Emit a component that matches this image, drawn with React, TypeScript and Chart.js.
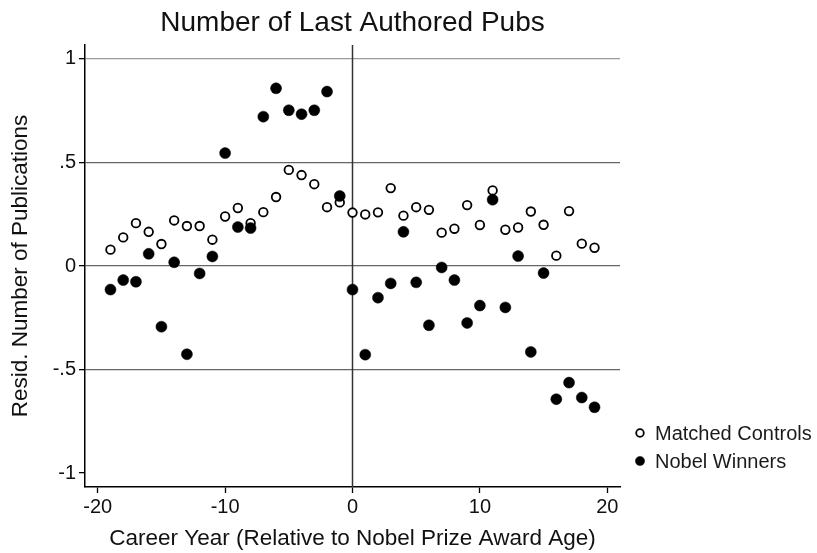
import React, { useEffect, useRef } from "react";
import { Chart, registerables } from "chart.js";

Chart.register(...registerables);

// Career year relative to award age
const YEARS = [-19, -18, -17, -16, -15, -14, -13, -12, -11, -10, -9, -8, -7, -6, -5, -4, -3, -2, -1, 0,
  1, 2, 3, 4, 5, 6, 7, 8, 9, 10, 11, 12, 13, 14, 15, 16, 17, 18, 19];

const MATCHED_CONTROLS = [0.079, 0.138, 0.207, 0.165, 0.106, 0.220, 0.193, 0.193, 0.127, 0.239,
  0.280, 0.207, 0.260, 0.333, 0.464, 0.439, 0.395, 0.284, 0.307, 0.258,
  0.249, 0.259, 0.376, 0.243, 0.284, 0.271, 0.161, 0.180, 0.294, 0.198,
  0.365, 0.175, 0.186, 0.263, 0.199, 0.050, 0.265, 0.108, 0.088];

const NOBEL_WINNERS = [-0.114, -0.068, -0.076, 0.059, -0.293, 0.018, -0.426, -0.036, 0.046, 0.545,
  0.188, 0.183, 0.721, 0.858, 0.752, 0.733, 0.752, 0.842, 0.338, -0.114,
  -0.428, -0.153, -0.084, 0.165, -0.079, -0.286, -0.007, -0.068, -0.275, -0.191,
  0.320, -0.200, 0.048, -0.415, -0.034, -0.643, -0.563, -0.635, -0.682];

const X_TICKS = [-20, -10, 0, 10, 20];
const Y_TICKS = [-1, -0.5, 0, 0.5, 1];
const Y_TICK_LABELS: Record<string, string> = { "-1": "-1", "-0.5": "-.5", "0": "0", "0.5": ".5", "1": "1" };

const TITLE = "Number of Last Authored Pubs";
const FONT = "'Liberation Sans', Arial, sans-serif";

// Title centred over the plot region rather than the whole canvas
const plotTitle = {
  id: "plotTitle",
  afterDraw(chart: any) {
    const { ctx, chartArea } = chart;
    ctx.save();
    ctx.font = `28px ${FONT}`;
    ctx.fillStyle = "#111";
    ctx.textAlign = "center";
    ctx.textBaseline = "alphabetic";
    ctx.fillText(TITLE, (chartArea.left + chartArea.right) / 2, 31);
    ctx.restore();
  },
};

// Vertical reference line at year 0
const zeroLine = {
  id: "zeroLine",
  beforeDatasetsDraw(chart: any) {
    const { ctx, chartArea, scales } = chart;
    const x = scales.x.getPixelForValue(0);
    ctx.save();
    ctx.strokeStyle = "#333";
    ctx.lineWidth = 1.5;
    ctx.beginPath();
    ctx.moveTo(x, chartArea.top);
    ctx.lineTo(x, chartArea.bottom);
    ctx.stroke();
    ctx.restore();
  },
};

// Legend placed to the right of the plot, near its lower end
const sideLegend = {
  id: "sideLegend",
  afterDraw(chart: any) {
    const { ctx } = chart;
    const rows = [0, 1];
    ctx.save();
    ctx.font = `20px ${FONT}`;
    ctx.textBaseline = "middle";
    rows.forEach((i) => {
      const ds = chart.data.datasets[i];
      const cy = 433 + i * 28;
      const cx = 640;
      ctx.beginPath();
      ctx.arc(cx, cy, ds.legendRadius, 0, Math.PI * 2);
      ctx.fillStyle = ds.pointBackgroundColor;
      ctx.fill();
      ctx.lineWidth = ds.pointBorderWidth;
      ctx.strokeStyle = ds.pointBorderColor;
      ctx.stroke();
      ctx.fillStyle = "#1a1a1a";
      ctx.fillText(ds.label, 655, cy + 1);
    });
    ctx.restore();
  },
};

export default function App() {
  const ref = useRef<HTMLCanvasElement>(null);

  useEffect(() => {
    document.body.style.margin = "0";
    const canvas = ref.current!;
    const chart = new Chart(canvas, {
      type: "scatter",
      data: {
        datasets: [
          {
            label: "Matched Controls",
            data: YEARS.map((x, i) => ({ x, y: MATCHED_CONTROLS[i] })),
            pointRadius: 4.3,
            pointBorderWidth: 1.8,
            pointBackgroundColor: "#ffffff",
            pointBorderColor: "#000000",
            legendRadius: 3.8,
            order: 2,
          } as any,
          {
            label: "Nobel Winners",
            data: YEARS.map((x, i) => ({ x, y: NOBEL_WINNERS[i] })),
            pointRadius: 5.5,
            pointBorderWidth: 0.5,
            pointBackgroundColor: "#000000",
            pointBorderColor: "#000000",
            legendRadius: 4.6,
            order: 1,
          } as any,
        ],
      },
      options: {
        responsive: false,
        animation: false,
        events: [],
        layout: { padding: { left: 0, right: 197, top: 45, bottom: 0 } },
        plugins: {
          legend: { display: false },
          tooltip: { enabled: false },
          title: { display: false },
        },
        scales: {
          x: {
            type: "linear",
            min: -21,
            max: 21,
            afterBuildTicks: (s: any) => {
              s.ticks = X_TICKS.map((v) => ({ value: v }));
            },
            afterFit: (s: any) => {
              s.height = 66;
            },
            border: { display: true, color: "#000", width: 1.5 },
            grid: { drawOnChartArea: false, drawTicks: true, tickLength: 6, tickColor: "#000", tickWidth: 1.3 },
            ticks: { color: "#111", font: { family: FONT, size: 20 }, padding: 2, maxRotation: 0 },
            title: {
              display: true,
              text: "Career Year (Relative to Nobel Prize Award Age)",
              color: "#111",
              font: { family: FONT, size: 22.5 },
              padding: { top: 4, bottom: 1 },
            },
          },
          y: {
            type: "linear",
            min: -1.067,
            max: 1.067,
            afterBuildTicks: (s: any) => {
              s.ticks = Y_TICKS.map((v) => ({ value: v }));
            },
            afterFit: (s: any) => {
              s.width = 85;
            },
            border: { display: true, color: "#000", width: 1.5 },
            grid: {
              drawTicks: true,
              tickLength: 6,
              tickColor: "#000",
              tickWidth: 1.3,
              lineWidth: 1.3,
              color: (c: any) => {
                const v = c.tick ? c.tick.value : 0;
                if (v === -1) return "rgba(0,0,0,0)";
                if (v === 1) return "#9a9a9a";
                return "#666666";
              },
            },
            ticks: {
              color: "#111",
              font: { family: FONT, size: 20 },
              padding: 3,
              callback: (v: any) => Y_TICK_LABELS[String(v)] ?? String(v),
            },
            title: {
              display: true,
              text: "Resid. Number of Publications",
              color: "#111",
              font: { family: FONT, size: 22.5 },
              padding: { top: 7, bottom: 0 },
            },
          },
        },
      } as any,
      plugins: [zeroLine, sideLegend, plotTitle],
    });
    return () => chart.destroy();
  }, []);

  return <canvas ref={ref} width={817} height={553} style={{ display: "block" }} />;
}
